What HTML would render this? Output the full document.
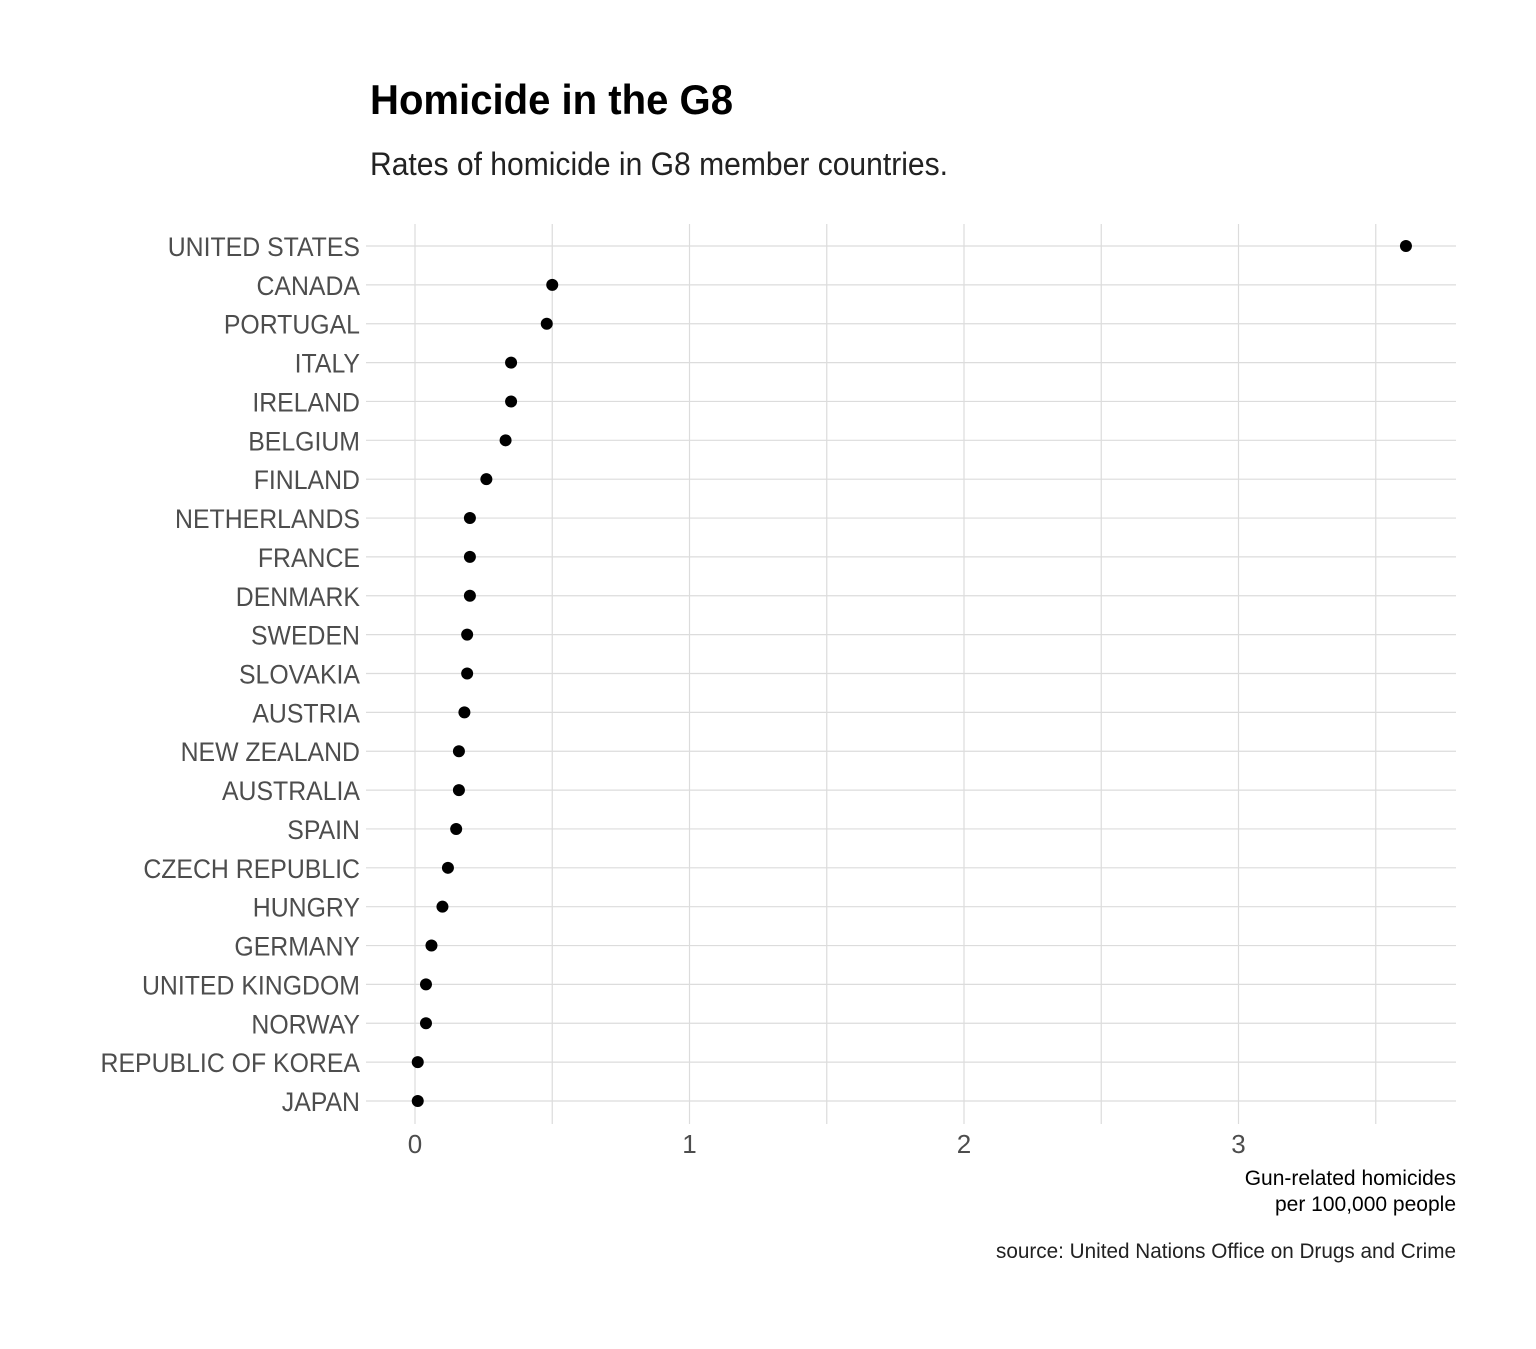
<!DOCTYPE html>
<html><head><meta charset="utf-8"><style>
html,body{margin:0;padding:0;background:#fff;}
svg text{font-family:"Liberation Sans Narrow","Liberation Sans",sans-serif;}
</style></head><body>
<svg id="chart" width="1536" height="1344" xmlns="http://www.w3.org/2000/svg">
<rect width="1536" height="1344" fill="#fff"/>
<text x="370" y="114" font-size="42" font-weight="bold" fill="#000" textLength="363" lengthAdjust="spacingAndGlyphs">Homicide in the G8</text>
<text x="370" y="175" font-size="32" fill="#222" textLength="578" lengthAdjust="spacingAndGlyphs">Rates of homicide in G8 member countries.</text>
<g id="grid"></g><g id="ylabels" transform="translate(360,0) scale(0.92,1) translate(-360,0)"></g><g id="xlabels"></g><g id="dots"></g>
<text x="1456" y="1185" font-size="21" fill="#000" text-anchor="end">Gun-related homicides</text>
<text x="1456" y="1211" font-size="21" fill="#000" text-anchor="end">per 100,000 people</text>
<text x="1456" y="1258" font-size="21" fill="#222" text-anchor="end" textLength="460" lengthAdjust="spacingAndGlyphs">source: United Nations Office on Drugs and Crime</text>
</svg>
<script>
const countries=["UNITED STATES","CANADA","PORTUGAL","ITALY","IRELAND","BELGIUM","FINLAND","NETHERLANDS","FRANCE","DENMARK","SWEDEN","SLOVAKIA","AUSTRIA","NEW ZEALAND","AUSTRALIA","SPAIN","CZECH REPUBLIC","HUNGRY","GERMANY","UNITED KINGDOM","NORWAY","REPUBLIC OF KOREA","JAPAN"];
const rates=[3.61,0.50,0.48,0.35,0.35,0.33,0.26,0.20,0.20,0.20,0.19,0.19,0.18,0.16,0.16,0.15,0.12,0.10,0.06,0.04,0.04,0.01,0.01];
const xTicks=[0,1,2,3];
const xMinor=[0.5,1.5,2.5,3.5];
const NS="http://www.w3.org/2000/svg";
const x=v=>415+v*274.5;
const y=i=>246+i*(1101-246)/(countries.length-1);
function mk(tag,attrs,parent,text){const e=document.createElementNS(NS,tag);for(const k in attrs)e.setAttribute(k,attrs[k]);if(text!==undefined)e.textContent=text;parent.appendChild(e);return e;}
const grid=document.getElementById('grid'),yl=document.getElementById('ylabels'),xl=document.getElementById('xlabels'),dots=document.getElementById('dots');
xTicks.concat(xMinor).forEach(v=>{
  const l=mk('line',{x1:x(v),x2:x(v),y1:224,y2:1124,stroke:'#dcdcdc','stroke-width':1.2},grid);
  
  
});
xTicks.forEach(v=>{
  const t=mk('text',{x:x(v),y:1153,'font-size':26,fill:'#4d4d4d','text-anchor':'middle'},xl,String(v));
  
  
});
countries.forEach((c,i)=>{
  const l=mk('line',{x1:366,x2:1456,y1:y(i),y2:y(i),stroke:'#dcdcdc','stroke-width':1.2},grid);
  
  
  const t=mk('text',{x:360,y:y(i)+10,'font-size':27,fill:'#4d4d4d','text-anchor':'end'},yl,c);
  
  
  const d=mk('circle',{cx:x(rates[i]),cy:y(i),r:6,fill:'#000'},dots);
  
  
});
</script>
</body></html>
